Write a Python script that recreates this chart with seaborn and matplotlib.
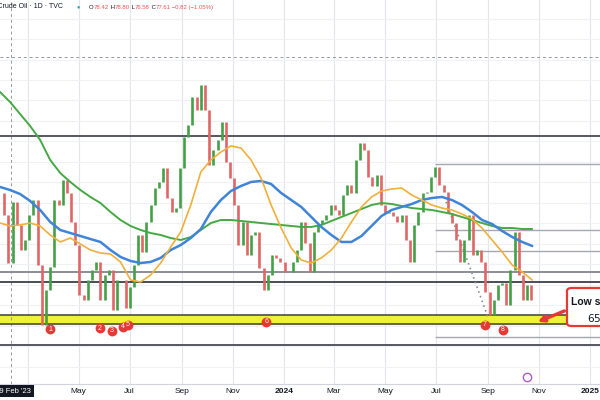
import pandas as pd
import numpy as np
import seaborn as sns
import matplotlib.pyplot as plt
from matplotlib.patches import FancyBboxPatch

# daily crude oil, sampled every 5 days (closes)
closes = [81.21, 78.53, 72.67, 80.12, 77.31, 74.26, 75.48, 78.53, 80.36, 72.43,
          65.11, 69.38, 72.19, 80.36, 79.75, 82.80, 81.21, 77.68, 74.87, 68.77,
          68.16, 70.60, 71.82, 72.80, 68.16, 71.21, 71.82, 66.94, 70.60, 70.60,
          67.18, 69.75, 72.43, 76.09, 74.02, 77.68, 79.75, 81.82, 82.56, 84.26,
          80.60, 78.90, 79.38, 84.26, 88.05, 89.51, 92.93, 91.34, 94.39, 91.34,
          84.63, 86.46, 87.68, 89.88, 84.99, 83.04, 79.75, 74.87, 77.68, 73.65,
          76.09, 76.46, 72.06, 69.38, 71.21, 73.65, 73.29, 72.80, 71.58, 71.58,
          72.80, 74.26, 77.68, 75.11, 71.58, 76.46, 77.43, 77.92, 78.53, 79.75,
          79.14, 78.53, 80.97, 82.19, 81.21, 85.24, 87.31, 86.46, 83.17, 82.07,
          83.41, 79.75, 78.77, 78.90, 78.41, 77.68, 78.53, 75.48, 72.80, 77.31,
          78.90, 81.21, 81.34, 83.17, 84.39, 82.19, 81.34, 78.77, 77.53, 75.48,
          72.80, 75.48, 78.53, 73.65, 74.26, 72.80, 69.14, 66.33, 68.16, 70.01,
          70.25, 67.55, 71.82, 76.46, 71.21, 68.16, 70.01, 68.16]

# moving averages, sampled every 12 days
ma50 = [77.55, 77.19, 77.31, 77.55, 77.19, 76.09, 75.24, 75.72, 74.99, 74.26,
        73.89, 73.77, 72.80, 70.60, 70.36, 71.21, 72.67, 74.63, 76.46, 79.75,
        83.78, 85.24, 86.22, 86.95, 86.70, 85.24, 83.04, 79.75, 76.94, 74.50,
        73.04, 72.67, 73.29, 74.26, 75.72, 77.68, 79.51, 80.73, 81.46, 81.70,
        81.82, 80.97, 80.36, 79.75, 79.38, 79.14, 78.65, 78.04, 76.94, 75.48,
        74.02, 72.43, 71.58, 70.60]
ma100 = [81.95, 81.58, 81.09, 80.24, 79.14, 77.68, 76.70, 76.33, 75.97, 75.60,
         75.24, 74.26, 73.41, 72.92, 72.67, 72.80, 73.29, 74.26, 74.87, 75.72,
         76.82, 78.90, 80.36, 81.46, 82.07, 82.56, 82.68, 82.31, 81.21, 80.36,
         79.51, 78.29, 77.07, 76.09, 75.24, 75.24, 75.97, 77.19, 78.41, 79.14,
         79.51, 79.87, 80.36, 80.60, 80.73, 80.36, 79.75, 78.90, 77.92, 77.43,
         76.58, 75.85, 75.24, 74.75]
ma200 = [93.54, 92.32, 90.85, 89.39, 87.68, 85.24, 83.65, 82.56, 81.58, 80.73,
         79.99, 78.90, 77.92, 77.19, 76.70, 76.33, 76.09, 75.72, 75.48, 75.84,
         76.70, 77.55, 77.92, 77.92, 77.80, 77.68, 77.55, 77.43, 77.31, 77.19,
         77.07, 77.07, 77.31, 77.80, 78.29, 78.77, 79.26, 79.75, 79.99, 79.87,
         79.63, 79.38, 79.26, 79.14, 78.90, 78.65, 78.29, 77.92, 77.55, 77.19,
         76.94, 76.94, 76.82, 76.82]

levels_full = [88.17, 71.58, 70.36, 62.67]
levels_right = [84.75, 76.70, 74.14, 63.65]
band_low, band_high = 65.23, 66.33

swing_labels = ['1', '2', '3', '4', '5', '6', '7', '8']
swing_dates = ['2023-03-28', '2023-05-26', '2023-06-10', '2023-06-23', '2023-06-29',
               '2023-12-11', '2024-08-28', '2024-09-19']
swing_prices = [64.62, 64.74, 64.38, 64.87, 65.11, 65.48, 65.11, 64.50]

tick_dates = ['2023-03-01', '2023-05-01', '2023-07-01', '2023-09-01', '2023-11-01',
              '2024-01-01', '2024-03-01', '2024-05-01', '2024-07-01', '2024-09-01',
              '2024-11-01', '2025-01-01']
# first label (Mar) sits under the crosshair date box
tick_labels = ['', 'May', 'Jul', 'Sep', 'Nov', '2024', 'Mar', 'May', 'Jul', 'Sep', 'Nov', '2025']

header_parts = [('O', '#131722'), ('78.42', '#ef5350'), (' H', '#131722'), ('78.80', '#ef5350'),
                (' L', '#131722'), ('76.58', '#ef5350'), (' C', '#131722'),
                ('77.61', '#ef5350'), (' −0.82 (−1.05%)', '#ef5350')]

sns.set_style('white')
plt.rcParams['font.family'] = ['Liberation Sans', 'DejaVu Sans']

fig = plt.figure(figsize=(6, 4), dpi=100)
ax = fig.add_axes([0, 0.04, 1, 0.96])

dates = pd.date_range('2023-01-27', periods=len(closes), freq='5D')
opens = [closes[0]] + closes[:-1]
cols = ['#43a047' if c >= o else '#e06666' for o, c in zip(opens, closes)]
ax.vlines(dates, np.minimum(opens, closes), np.maximum(opens, closes),
          colors=cols, lw=1.9, zorder=4)

ma = pd.DataFrame({'date': pd.date_range('2023-01-27', periods=len(ma50), freq='12D'),
                   'ma50': ma50, 'ma100': ma100, 'ma200': ma200})
sns.lineplot(data=ma, x='date', y='ma200', color='#45a845', lw=1.4, ax=ax, zorder=5)
sns.lineplot(data=ma, x='date', y='ma100', color='#3f84d8', lw=1.8, ax=ax, zorder=5)
sns.lineplot(data=ma, x='date', y='ma50', color='#f0b03a', lw=1.2, ax=ax, zorder=5)

# levels
ax.axhspan(band_low, band_high, color='#eef236', zorder=1)
for lv in (band_low, band_high):
    ax.axhline(lv, color='#4d4d4d', lw=1.2, zorder=2)
for lv, c in zip(levels_full, ['#55585f', '#8a8d96', '#4a4d57', '#55585f']):
    ax.axhline(lv, color=c, lw=1.4, zorder=2)
for lv in levels_right:
    ax.hlines(lv, pd.Timestamp('2024-06-30'), pd.Timestamp('2025-02-01'),
              color='#a5a8b0', lw=1.0, zorder=2)
ax.plot(pd.to_datetime(['2024-07-11', '2024-09-01']), [80.7, 66.1],
        ls=(0, (1, 2)), color='#8a8d96', lw=1.2, zorder=3)

# crosshair
ax.axvline(pd.Timestamp('2023-02-09'), color='#9598a1', lw=0.7, ls=(0, (3, 3)), zorder=1)
ax.axhline(97.8, color='#9598a1', lw=0.7, ls=(0, (3, 3)), zorder=1)

# swing points
sd = pd.to_datetime(swing_dates)
for d, p, t in zip(sd, swing_prices, swing_labels):
    ax.scatter([d], [p], s=50, color='#e53935', zorder=7, linewidths=0)
    ax.text(d, p, t, color='white', fontsize=5, ha='center', va='center', zorder=8)

ax.set_xlim(pd.Timestamp('2023-01-27'), pd.Timestamp('2025-01-13'))
ax.set_ylim(57.91, 104.76)
ax.set_xticks(pd.to_datetime(tick_dates))
ax.set_xticklabels(tick_labels)
for lab in ax.get_xticklabels():
    if lab.get_text().isdigit():
        lab.set_fontweight('bold')
ax.set_yticks(np.arange(60, 105, 2.5))
ax.set_yticklabels([])
ax.tick_params(axis='x', length=0, pad=3, labelsize=6, labelcolor='#131722')
ax.tick_params(axis='y', length=0)
ax.grid(True, axis='x', color='#e3e5ea', lw=0.8)
ax.grid(True, axis='y', color='#f0f1f4', lw=0.8)
ax.set_xlabel('')
ax.set_ylabel('')
for s in ['top', 'left', 'right']:
    ax.spines[s].set_visible(False)
ax.spines['bottom'].set_color('#d1d4dc')

# annotation box (runs off the right edge like the screenshot)
box = FancyBboxPatch((0.945, 0.151), 0.12, 0.099, boxstyle='round,pad=0,rounding_size=0.008',
                     transform=ax.transAxes, fc='white', ec='#e53935', lw=1.6, zorder=9,
                     clip_on=False)
ax.add_patch(box)
ax.text(0.952, 0.213, 'Low swing area', transform=ax.transAxes, fontsize=7.5,
        fontweight='bold', color='#131722', va='center', zorder=10)
ax.text(0.978, 0.172, '$65.30 - $66.30', transform=ax.transAxes, fontsize=7.5,
        fontweight='bold', color='#131722', va='center', zorder=10)
ax.annotate('', xy=(0.892, 0.159), xytext=(0.945, 0.193), xycoords='axes fraction',
            arrowprops=dict(arrowstyle='-|>', color='#e53935', lw=2.4, mutation_scale=9),
            zorder=9)

# event icon
ax.plot([0.878], [0.018], 'o', transform=ax.transAxes, ms=6, mfc='white',
        mec='#b05bc9', mew=1, clip_on=False, zorder=9)

# header
fig.text(-0.034, 0.975, 'Light Crude Oil · 1D · TVC', fontsize=5, color='#131722', va='bottom')
fig.text(0.13, 0.982, '●', fontsize=4, color='#26a69a', va='center', ha='center')
last = fig.text(0.148, 0.975, header_parts[0][0], fontsize=4.3, color=header_parts[0][1],
                va='bottom')
for txt, c in header_parts[1:]:
    last = ax.annotate(txt, xy=(1, 0), xycoords=last, fontsize=4.3, color=c,
                       va='bottom', ha='left', annotation_clip=False)

# crosshair date label
fig.text(0.052, 0.022, "Thu 09 Feb '23", fontsize=5.5, color='white', ha='right', va='center',
         bbox=dict(boxstyle='square,pad=0.35', fc='#131722', ec='none'))

fig.savefig('out.png', dpi=100)
